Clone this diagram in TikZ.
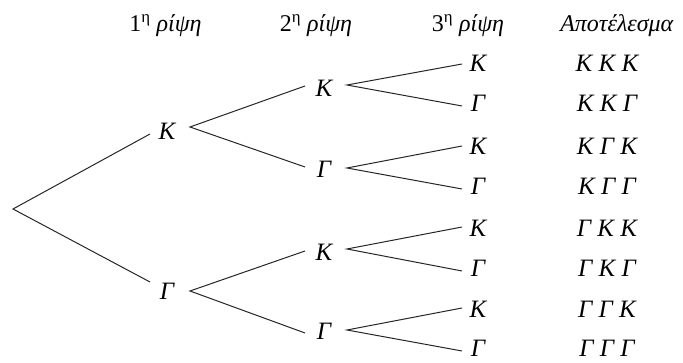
\documentclass[tikz,border=0pt]{standalone}
\usepackage{fontspec}
\setmainfont{Liberation Serif}
\begin{document}
\begin{tikzpicture}[x=1pt,y=1pt,
  lbl/.style={inner sep=0pt,anchor=center,font=\fontsize{25}{30}\selectfont\itshape},
  hdr/.style={inner sep=0pt,anchor=base,font=\fontsize{24}{29}\selectfont},
  edge/.style={line width=1pt,black!85}]
\useasboundingbox (0,0) rectangle (683,363);
% headers
\node[hdr] (h1) at (165.5,331) {1\textsuperscript{η} \textit{ρίψη}};
\node[hdr] (h2) at (316,331) {2\textsuperscript{η} \textit{ρίψη}};
\node[hdr] (h3) at (468,331) {3\textsuperscript{η} \textit{ρίψη}};
\node[hdr] (h4) at (617,331) {\textit{Αποτέλεσμα}};
% root
\coordinate (r) at (13,154);
% level 1
\node[lbl] (a1) at (167,232) {Κ};
\node[lbl] (a2) at (167,72) {Γ};
% level 2
\node[lbl] (b1) at (324,275) {Κ};
\node[lbl] (b2) at (324,194) {Γ};
\node[lbl] (b3) at (324,111) {Κ};
\node[lbl] (b4) at (324,32) {Γ};
% level 3
\node[lbl] (c1) at (478,300) {Κ};
\node[lbl] (c2) at (478,260) {Γ};
\node[lbl] (c3) at (478,217) {Κ};
\node[lbl] (c4) at (478,177) {Γ};
\node[lbl] (c5) at (478,135) {Κ};
\node[lbl] (c6) at (478,95) {Γ};
\node[lbl] (c7) at (478,54) {Κ};
\node[lbl] (c8) at (478,15) {Γ};
% results
\node[lbl] (d1) at (607,300) {Κ Κ Κ};
\node[lbl] (d2) at (607,260) {Κ Κ Γ};
\node[lbl] (d3) at (607,217) {Κ Γ Κ};
\node[lbl] (d4) at (607,177) {Κ Γ Γ};
\node[lbl] (d5) at (607,135) {Γ Κ Κ};
\node[lbl] (d6) at (607,95) {Γ Κ Γ};
\node[lbl] (d7) at (607,54) {Γ Γ Κ};
\node[lbl] (d8) at (607,15) {Γ Γ Γ};
% connectors
\draw[edge] ([shift={(-17,-3)}]a1.center) -- (r) -- ([shift={(-17,9)}]a2.center);
\draw[edge] ([shift={(-19,2)}]b1.center) -- ([shift={(23,4)}]a1.center) -- ([shift={(-19,2)}]b2.center);
\draw[edge] ([shift={(-19,1)}]b3.center) -- ([shift={(23,0)}]a2.center) -- ([shift={(-19,-2)}]b4.center);
\draw[edge] ([shift={(-16,-1)}]c1.center) -- ([shift={(23,3)}]b1.center) -- ([shift={(-16,-3)}]c2.center);
\draw[edge] ([shift={(-16,0)}]c3.center) -- ([shift={(23,1)}]b2.center) -- ([shift={(-16,-3)}]c4.center);
\draw[edge] ([shift={(-16,1)}]c5.center) -- ([shift={(23,3)}]b3.center) -- ([shift={(-16,-3)}]c6.center);
\draw[edge] ([shift={(-16,1)}]c7.center) -- ([shift={(23,1)}]b4.center) -- ([shift={(-16,-3)}]c8.center);
\end{tikzpicture}
\end{document}
